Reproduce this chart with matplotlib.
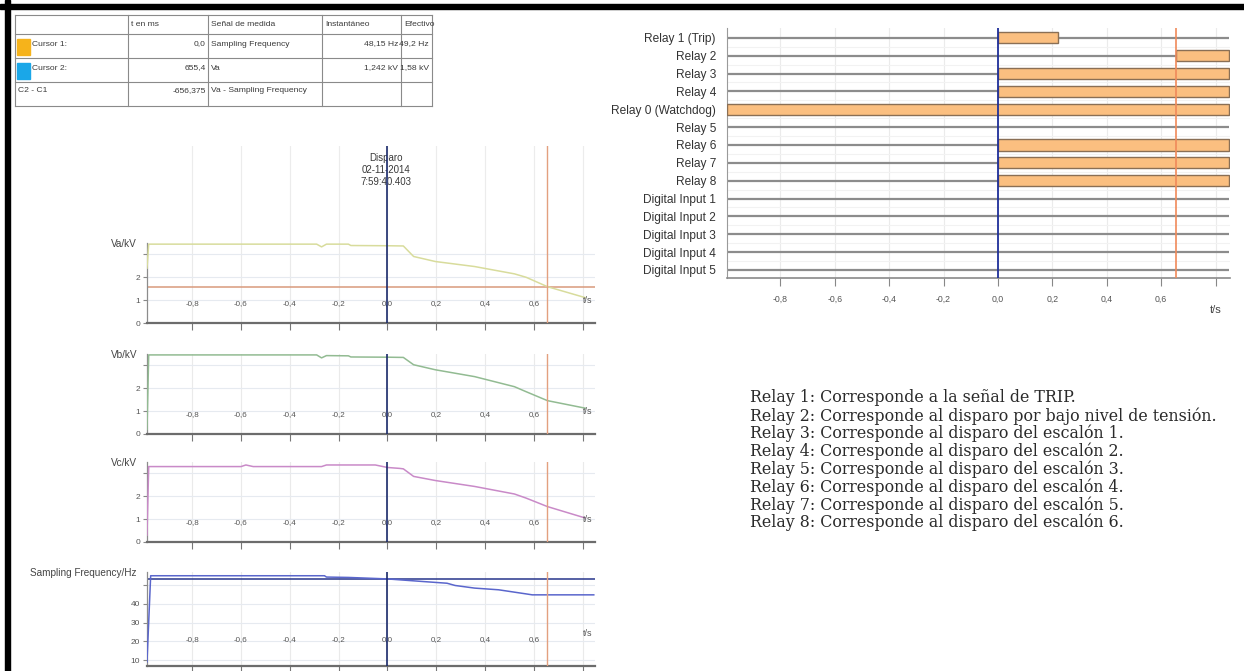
import matplotlib.pyplot as plt
from matplotlib.patches import Rectangle

W, H = 1244, 671

# cursor table
table_header = ["", "t en ms", "Señal de medida", "Instantáneo", "Efectivo"]
table_rows = [["Cursor 1:", "0,0", "Sampling Frequency", "48,15 Hz", "49,2 Hz"],
              ["Cursor 2:", "655,4", "Va", "1,242 kV", "1,58 kV"],
              ["C2 - C1", "-656,375", "Va - Sampling Frequency", "", ""]]
swatch_colors = ["#F6B31B", "#1AA7E8", None]

disparo = ["Disparo", "02-11-2014", "7:59:40.403"]

t_ticks = [-0.8, -0.6, -0.4, -0.2, 0.0, 0.2, 0.4, 0.6, 0.8]
t_labels = ["-0,8", "-0,6", "-0,4", "-0,2", "0,0", "0,2", "0,4", "0,6", ""]
cursor1 = 0.0
cursor2 = 0.655

# analog channels (kV)
va_t = [-0.985, -0.978, -0.29, -0.27, -0.25, -0.16, -0.15, 0.0, 0.065, 0.107, 0.196, 0.357, 0.52, 0.568, 0.655, 0.81]
va_v = [2.4, 3.45, 3.45, 3.33, 3.45, 3.45, 3.39, 3.38, 3.37, 2.91, 2.69, 2.47, 2.15, 2.0, 1.59, 1.11]
va_cursor_level = 1.58

vb_t = [-0.985, -0.978, -0.29, -0.27, -0.25, -0.16, -0.15, 0.0, 0.065, 0.107, 0.196, 0.357, 0.52, 0.568, 0.655, 0.81]
vb_v = [0.2, 3.46, 3.46, 3.33, 3.43, 3.42, 3.37, 3.36, 3.35, 3.03, 2.81, 2.51, 2.07, 1.85, 1.46, 1.13]

vc_t = [-0.985, -0.978, -0.6, -0.58, -0.55, -0.27, -0.25, -0.05, 0.0, 0.05, 0.065, 0.107, 0.196, 0.357, 0.52, 0.568, 0.655, 0.81]
vc_v = [0.3, 3.3, 3.3, 3.37, 3.3, 3.3, 3.37, 3.37, 3.26, 3.22, 3.2, 2.87, 2.69, 2.43, 2.1, 1.92, 1.55, 1.05]

freq_t = [-0.985, -0.97, -0.258, -0.25, -0.16, 0.0, 0.147, 0.244, 0.277, 0.357, 0.455, 0.568, 0.593, 0.845]
freq_v = [9.0, 55.0, 55.0, 54.3, 54.1, 53.3, 51.9, 51.0, 49.8, 48.4, 47.5, 45.3, 44.8, 44.8]
freq_ref = 53.3

# digital channels
relay_names = ["Relay 1 (Trip)", "Relay 2", "Relay 3", "Relay 4", "Relay 0 (Watchdog)",
               "Relay 5", "Relay 6", "Relay 7", "Relay 8", "Digital Input 1",
               "Digital Input 2", "Digital Input 3", "Digital Input 4", "Digital Input 5"]
relay_on = [0.0, 0.655, 0.0, 0.0, -0.996, None, 0.0, 0.0, 0.0, None, None, None, None, None]
relay_off = [0.22, 0.85, 0.85, 0.85, 0.85, None, 0.85, 0.85, 0.85, None, None, None, None, None]

notes = ["Relay 1: Corresponde a la señal de TRIP.",
         "Relay 2: Corresponde al disparo por bajo nivel de tensión.",
         "Relay 3: Corresponde al disparo del escalón 1.",
         "Relay 4: Corresponde al disparo del escalón 2.",
         "Relay 5: Corresponde al disparo del escalón 3.",
         "Relay 6: Corresponde al disparo del escalón 4.",
         "Relay 7: Corresponde al disparo del escalón 5.",
         "Relay 8: Corresponde al disparo del escalón 6."]

plt.rcParams['font.family'] = ['Liberation Sans', 'DejaVu Sans']
TXT = "#3a3a3a"
TFS = 6.1


def box(x0, y0, x1, y1):
    # pixel box (top-left origin) -> figure fraction
    return [x0 / W, 1 - y1 / H, (x1 - x0) / W, (y1 - y0) / H]


fig = plt.figure(figsize=(W / 100, H / 100), dpi=100)

# background layer in pixel coordinates
bg = fig.add_axes([0, 0, 1, 1])
bg.set_xlim(0, W)
bg.set_ylim(H, 0)
bg.axis("off")
bg.add_patch(Rectangle((0, 4), W, 5, color="black"))
bg.add_patch(Rectangle((5, 0), 5, H, color="black"))

# table
col_x = [15, 128, 208, 322, 401, 432]
row_y = [15, 34, 58, 82, 106]
text_y = [24, 44, 68, 91]
for x in col_x:
    bg.plot([x, x], [row_y[0], row_y[-1]], color="#8a8a8a", lw=0.8)
for y in row_y:
    bg.plot([col_x[0], col_x[-1]], [y, y], color="#8a8a8a", lw=0.8)
for j, h in enumerate(table_header):
    bg.text(col_x[j] + 3, text_y[0], h, fontsize=TFS, color=TXT, va="center")
for i, row in enumerate(table_rows):
    y = text_y[i + 1]
    if swatch_colors[i]:
        bg.add_patch(Rectangle((17, row_y[i + 1] + 5), 13, 16, color=swatch_colors[i]))
        bg.text(32, y, row[0], fontsize=TFS, color=TXT, va="center")
    else:
        bg.text(col_x[0] + 3, y, row[0], fontsize=TFS, color=TXT, va="center")
    bg.text(col_x[2] - 2, y, row[1], fontsize=TFS, color=TXT, va="center", ha="right")
    bg.text(col_x[2] + 3, y, row[2], fontsize=TFS, color=TXT, va="center")
    bg.text(col_x[4] - 3, y, row[3], fontsize=TFS, color=TXT, va="center", ha="right")
    bg.text(col_x[5] - 3, y, row[4], fontsize=TFS, color=TXT, va="center", ha="right")

for k, s in enumerate(disparo):
    bg.text(386, 158 + 12 * k, s, fontsize=7, color=TXT, ha="center", va="center")

T0, T1 = -0.985, 0.85
LX0, LX1 = 147, 595

# header strip with cursor lines above the first panel
hd = fig.add_axes(box(LX0, 146, LX1, 243))
hd.set_xlim(T0, T1)
hd.set_ylim(0, 1)
hd.axis("off")
for x in t_ticks:
    hd.axvline(x, color="#ececec", lw=0.8, zorder=0)
hd.axvline(cursor1, color="#1b2a6b", lw=1.2)
hd.axvline(cursor2, color="#e3a07f", lw=1.0)


def panel(top, bottom, ylim, yticks, ylabels, name, t, v, color, lab_y, ts_y):
    ax = fig.add_axes(box(LX0, top, LX1, bottom))
    ax.patch.set_alpha(0)
    ax.set_xlim(T0, T1)
    ax.set_ylim(*ylim)
    for s in ["top", "right"]:
        ax.spines[s].set_visible(False)
    ax.spines["left"].set_color("#8c8c8c")
    ax.spines["left"].set_linewidth(0.9)
    ax.spines["bottom"].set_color("#6c6c6c")
    ax.spines["bottom"].set_linewidth(1.6)
    ax.set_xticks(t_ticks)
    ax.set_xticklabels([])
    ax.tick_params(axis="x", direction="out", length=5, width=0.8, color="#777777")
    ax.set_yticks(yticks)
    ax.set_yticklabels(ylabels, fontsize=6, color="#555555")
    ax.tick_params(axis="y", length=3, width=0.8, color="#888888", pad=2)
    for x in t_ticks:
        ax.axvline(x, color="#eaeaea", lw=0.8, zorder=0)
    for y in yticks:
        if y > ylim[0]:
            ax.axhline(y, color="#e6eaf0", lw=0.8, zorder=0)
    ax.plot(t, v, color=color, lw=1.1, zorder=3)
    ax.axvline(cursor1, color="#1b2a6b", lw=1.2, zorder=4)
    ax.axvline(cursor2, color="#e3a07f", lw=1.0, zorder=4)
    for x, lab in zip(t_ticks, t_labels):
        ax.text(x, lab_y, lab, fontsize=5.8, color="#555555", ha="center", va="center")
    ax.text(0.82, ts_y, "t/s", fontsize=6.5, color="#555555", ha="center", va="center")
    fig.text(137 / W, 1 - (top + 1) / H, name, fontsize=7.2, color="#444444",
             ha="right", va="center")
    return ax


ax_a = panel(243, 323, (0, 3.5), [0, 1, 2, 3], ["0", "1", "2", ""], "Va/kV",
             va_t, va_v, "#d8dc9c", 0.83, 1.0)
ax_a.axhline(va_cursor_level, color="#d99a7c", lw=1.1, zorder=2)
panel(354, 434, (0, 3.5), [0, 1, 2, 3], ["0", "1", "2", ""], "Vb/kV",
      vb_t, vb_v, "#92bb92", 0.83, 1.0)
panel(462, 542, (0, 3.5), [0, 1, 2, 3], ["0", "1", "2", ""], "Vc/kV",
      vc_t, vc_v, "#c98ac8", 0.83, 1.0)
ax_f = panel(572, 666, (6.8, 57), [10, 20, 30, 40, 50], ["10", "20", "30", "40", ""],
             "Sampling Frequency/Hz", freq_t, freq_v, "#5a66cc", 20.7, 24.4)
ax_f.axhline(freq_ref, color="#27358c", lw=1.1, zorder=2)

# digital channel chart
ax_r = fig.add_axes(box(727, 28, 1230, 278))
ax_r.set_xlim(-0.996, 0.853)
ax_r.set_ylim(len(relay_names) - 0.55, -0.55)
rows = list(range(len(relay_names)))
for x in t_ticks:
    ax_r.axvline(x, color="#ebebeb", lw=0.8, zorder=0)
for r in rows:
    ax_r.axhline(r + 0.5, color="#f2f2f2", lw=0.8, zorder=0)
ax_r.hlines(rows, -0.996, 0.85, color="#8c8c8c", lw=1.6, zorder=1)
starts = [a for a in relay_on if a is not None]
widths = [b - a for a, b in zip(relay_on, relay_off) if a is not None]
bar_rows = [r for r, a in zip(rows, relay_on) if a is not None]
ax_r.barh(bar_rows, widths, left=starts, height=0.62, color="#fbbf80",
          edgecolor="#8a6f55", lw=1.0, zorder=3)
ax_r.axvline(cursor1, color="#1f2f9a", lw=1.3, zorder=4)
ax_r.axvline(cursor2, color="#f08a5a", lw=1.2, zorder=4)
for s in ["top", "right"]:
    ax_r.spines[s].set_visible(False)
ax_r.spines["left"].set_color("#9a9a9a")
ax_r.spines["bottom"].set_color("#8a8a8a")
ax_r.spines["bottom"].set_linewidth(1.2)
ax_r.set_yticks(rows)
ax_r.set_yticklabels(relay_names, fontsize=8.6, color="#333333")
ax_r.tick_params(axis="y", length=0, pad=8)
ax_r.set_xticks(t_ticks)
ax_r.set_xticklabels(t_labels, fontsize=6.3, color="#555555")
ax_r.tick_params(axis="x", direction="out", length=6, width=0.8, color="#888888", pad=6)
fig.text(1216 / W, 1 - 310 / H, "t/s", fontsize=8, color="#444444", ha="center", va="center")

# channel description
for k, line in enumerate(notes):
    bg.text(750, 398 + 17.8 * k, line, fontsize=11.4, family="DejaVu Serif",
            color="#2a2a2a", va="center")

fig.savefig("out.png", dpi=100)
